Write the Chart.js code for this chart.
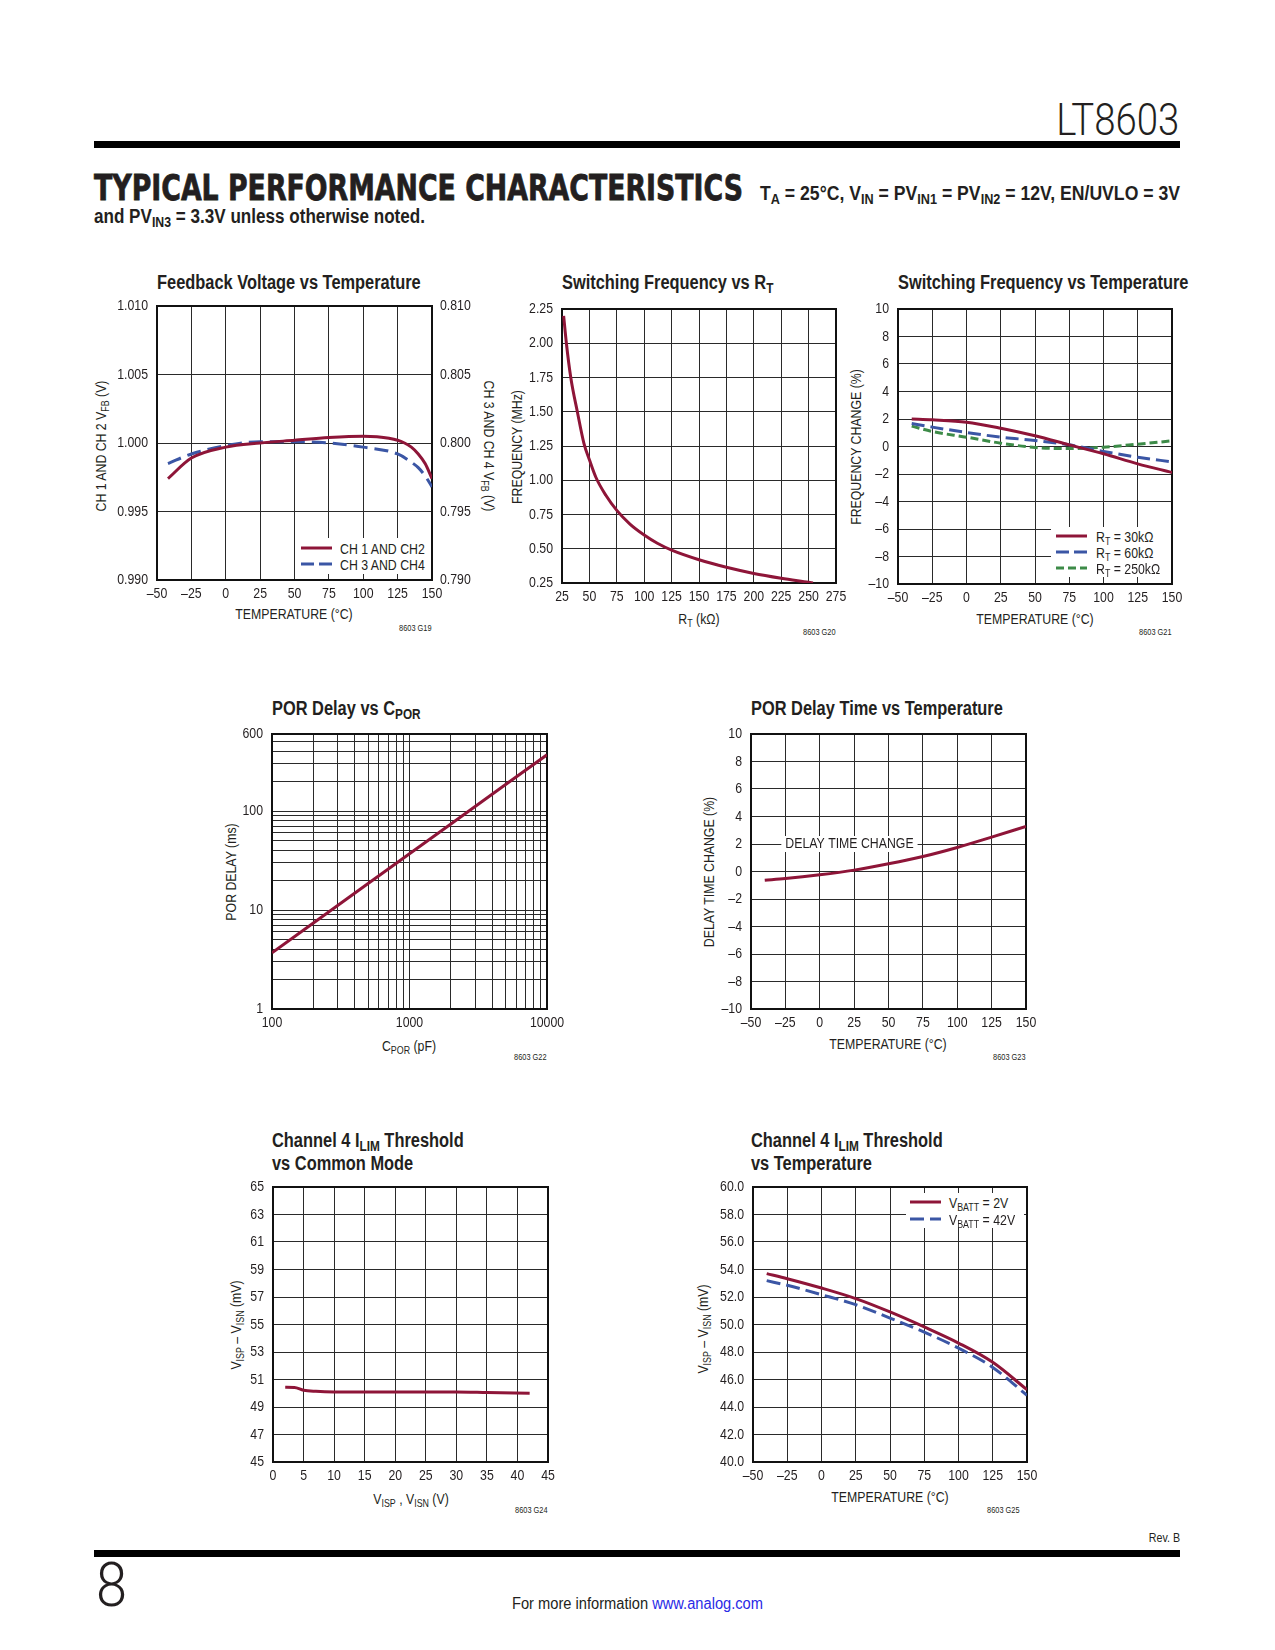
<!DOCTYPE html>
<html lang="en">
<head>
<meta charset="UTF-8" />
<title>LT8603 Typical Performance Characteristics</title>
<script src="https://cdn.jsdelivr.net/npm/chart.js@4.4.1/dist/chart.umd.min.js"></script>
<style>
	body { margin: 0; background: #fff; }
	#page {
		position: relative;
		width: 1275px;
		height: 1650px;
		overflow: hidden;
		color: #231f20;
		font-family: 'Liberation Sans', Arial, sans-serif;
	}
	#page canvas { position: absolute; }
	/* narrow look: Liberation Sans squeezed horizontally */
	.t { position: absolute; white-space: nowrap; line-height: 1; transform: translateY(-50%) scaleX(0.82); transform-origin: left center; }
	.r { transform-origin: right center; }
	.c { transform: translate(-50%, -50%) scaleX(0.82); transform-origin: center; }
	.rot { transform: translate(-50%, -50%) rotate(-90deg) scaleX(0.82); transform-origin: center; }
	.rotcw { transform: translate(-50%, -50%) rotate(90deg) scaleX(0.82); transform-origin: center; }
	.rule { position: absolute; left: 94px; width: 1086px; background: #000; }
	sub { font-size: 72%; vertical-align: baseline; position: relative; top: 0.3em; line-height: 0; }
	.ct { font-weight: bold; font-size: 20px; }
	.ax { font-size: 15px; }
	.id { font-size: 9px; }
	.lgbox { position: absolute; background: #fff; }
	.lg { position: absolute; }
	.lt { font-size: 15px; }
</style>
</head>
<body>
<div id="page">
	<!-- header -->
	<div class="t" id="partno" style="right:96px;top:120px;font-family:Roboto;font-weight:300;font-size:44px">LT8603</div>
	<div class="rule" style="top:141px;height:7px"></div>
	<div class="t" id="tpc" style="left:94px;top:188px;font-family:'DejaVu Sans';font-weight:bold;font-size:36px;-webkit-text-stroke:0.8px #231f20">TYPICAL PERFORMANCE CHARACTERISTICS</div>
	<div class="t" id="cond1" style="left:760px;top:193px;font-weight:bold;font-size:20px">T<sub>A</sub> = 25°C, V<sub>IN</sub> = PV<sub>IN1</sub> = PV<sub>IN2</sub> = 12V, EN/UVLO = 3V</div>
	<div class="t" id="cond2" style="left:94px;top:216px;font-weight:bold;font-size:20px">and PV<sub>IN3</sub> = 3.3V unless otherwise noted.</div>

	<!-- chart titles -->
	<div class="t ct" style="left:157px;top:282px">Feedback Voltage vs Temperature</div>
	<div class="t ct" style="left:562px;top:282px">Switching Frequency vs R<sub>T</sub></div>
	<div class="t ct" style="left:898px;top:282px">Switching Frequency vs Temperature</div>
	<div class="t ct" style="left:272px;top:708px">POR Delay vs C<sub>POR</sub></div>
	<div class="t ct" style="left:751px;top:708px">POR Delay Time vs Temperature</div>
	<div class="t ct" style="left:272px;top:1140px">Channel 4 I<sub>LIM</sub> Threshold</div>
	<div class="t ct" style="left:272px;top:1163px">vs Common Mode</div>
	<div class="t ct" style="left:751px;top:1140px">Channel 4 I<sub>LIM</sub> Threshold</div>
	<div class="t ct" style="left:751px;top:1163px">vs Temperature</div>

	<!-- axis titles -->
	<div class="t ax rot" style="left:100px;top:446px">CH 1 AND CH 2 V<sub>FB</sub> (V)</div>
	<div class="t ax rotcw" style="left:489px;top:446px">CH 3 AND CH 4 V<sub>FB</sub> (V)</div>
	<div class="t ax c" style="left:294px;top:613px">TEMPERATURE (°C)</div>
	<div class="t ax rot" style="left:516px;top:447px">FREQUENCY (MHz)</div>
	<div class="t ax c" style="left:699px;top:618px">R<sub>T</sub> (kΩ)</div>
	<div class="t ax rot" style="left:855px;top:447px">FREQUENCY CHANGE (%)</div>
	<div class="t ax c" style="left:1035px;top:618px">TEMPERATURE (°C)</div>
	<div class="t ax rot" style="left:230px;top:872px">POR DELAY (ms)</div>
	<div class="t ax c" style="left:409px;top:1045px">C<sub>POR</sub> (pF)</div>
	<div class="t ax rot" style="left:708px;top:872px">DELAY TIME CHANGE (%)</div>
	<div class="t ax c" style="left:888px;top:1043px">TEMPERATURE (°C)</div>
	<div class="t ax rot" style="left:235px;top:1325px">V<sub>ISP</sub> – V<sub>ISN</sub> (mV)</div>
	<div class="t ax c" style="left:411px;top:1498px">V<sub>ISP</sub> , V<sub>ISN</sub> (V)</div>
	<div class="t ax rot" style="left:702px;top:1329px">V<sub>ISP</sub> – V<sub>ISN</sub> (mV)</div>
	<div class="t ax c" style="left:890px;top:1496px">TEMPERATURE (°C)</div>

	<!-- figure ids -->
	<div class="t r id" style="right:843px;top:628px">8603 G19</div>
	<div class="t r id" style="right:439px;top:632px">8603 G20</div>
	<div class="t r id" style="right:103px;top:632px">8603 G21</div>
	<div class="t r id" style="right:728px;top:1057px">8603 G22</div>
	<div class="t r id" style="right:249px;top:1057px">8603 G23</div>
	<div class="t r id" style="right:727px;top:1510px">8603 G24</div>
	<div class="t r id" style="right:255px;top:1510px">8603 G25</div>

	<canvas id="c1"></canvas>
	<canvas id="c2"></canvas>
	<canvas id="c3"></canvas>
	<canvas id="c4"></canvas>
	<canvas id="c5"></canvas>
	<canvas id="c6"></canvas>
	<canvas id="c7"></canvas>

	<!-- legends -->
	<div class="lgbox" style="left:298px;top:538px;width:131px;height:36px"></div>
	<svg class="lg" style="left:301px;top:544.5px" width="31" height="6"><line x1="0" y1="3" x2="31" y2="3" stroke="#8e1538" stroke-width="3" /></svg>
	<div class="t lt" style="left:340px;top:548px">CH 1 AND CH2</div>
	<svg class="lg" style="left:301px;top:561px" width="31" height="6"><line x1="0" y1="3" x2="31" y2="3" stroke="#3b56a5" stroke-width="3" stroke-dasharray="13 5" /></svg>
	<div class="t lt" style="left:340px;top:564px">CH 3 AND CH4</div>

	<div class="lgbox" style="left:1051px;top:527px;width:120px;height:50px"></div>
	<svg class="lg" style="left:1056px;top:532.7px" width="31" height="6"><line x1="0" y1="3" x2="31" y2="3" stroke="#8e1538" stroke-width="3" /></svg>
	<div class="t lt" style="left:1096px;top:536px">R<sub>T</sub> = 30kΩ</div>
	<svg class="lg" style="left:1056px;top:548.7px" width="31" height="6"><line x1="0" y1="3" x2="31" y2="3" stroke="#3b56a5" stroke-width="3" stroke-dasharray="13 5" /></svg>
	<div class="t lt" style="left:1096px;top:552px">R<sub>T</sub> = 60kΩ</div>
	<svg class="lg" style="left:1056px;top:565.3px" width="31" height="6"><line x1="0" y1="3" x2="31" y2="3" stroke="#3d8b48" stroke-width="3" stroke-dasharray="8 4" /></svg>
	<div class="t lt" style="left:1096px;top:568px">R<sub>T</sub> = 250kΩ</div>

	<div class="lgbox" style="left:906px;top:1193px;width:118px;height:35px"></div>
	<svg class="lg" style="left:910px;top:1199.3px" width="31" height="6"><line x1="0" y1="3" x2="31" y2="3" stroke="#8e1538" stroke-width="3" /></svg>
	<div class="t lt" style="left:949px;top:1202px">V<sub>BATT</sub> = 2V</div>
	<svg class="lg" style="left:910px;top:1216px" width="31" height="6"><line x1="0" y1="3" x2="31" y2="3" stroke="#3b56a5" stroke-width="3" stroke-dasharray="14 6" /></svg>
	<div class="t lt" style="left:949px;top:1219px">V<sub>BATT</sub> = 42V</div>

	<!-- footer -->
	<div class="t r" style="right:95px;top:1537px;font-size:13px">Rev. B</div>
	<div class="rule" style="top:1550px;height:7px"></div>
	<div class="t" id="pageno" style="left:96px;top:1585px;font-family:Roboto;font-weight:300;font-size:62px">8</div>
	<div class="t" id="moreinfo" style="left:512px;top:1604px;font-size:16px">For more information <span style="color:#2a2ae6">www.analog.com</span></div>
</div>

<script>
	// ---- data: Feedback Voltage vs Temperature
	const fbTempA = [-42, -25, 0, 25, 50, 75, 100, 110, 125, 130, 135, 140, 145, 150]
	const fbCh12 = [0.9974, 0.9989, 0.9997, 1.0, 1.0002, 1.0004, 1.0005, 1.00045, 1.0002, 1.0, 0.9997, 0.9992, 0.9985, 0.9974]
	const fbTempB = [-42, -25, 0, 25, 50, 75, 100, 125, 135, 140, 145, 150]
	const fbCh34 = [0.7985, 0.7992, 0.7998, 0.8001, 0.8001, 0.8, 0.7997, 0.7992, 0.7986, 0.7982, 0.7976, 0.7968]
	const fbLeftTicks = [0.99, 0.995, 1.0, 1.005, 1.01]
	const fbLeftLabels = ['0.990', '0.995', '1.000', '1.005', '1.010']
	const fbRightTicks = [0.79, 0.795, 0.8, 0.805, 0.81]
	const fbRightLabels = ['0.790', '0.795', '0.800', '0.805', '0.810']

	// ---- shared temperature axis
	const tempTicks = [-50, -25, 0, 25, 50, 75, 100, 125, 150]
	const tempLabels = ['–50', '–25', '0', '25', '50', '75', '100', '125', '150']

	// ---- data: Switching Frequency vs RT
	const rtKohm = [26.5, 29, 33, 39, 45, 50, 56, 65, 75, 87, 100, 112, 125, 150, 175, 200, 225, 250, 254]
	const rtFreq = [2.2, 2.0, 1.75, 1.5, 1.27, 1.15, 1.02, 0.89, 0.78, 0.68, 0.6, 0.54, 0.49, 0.42, 0.365, 0.32, 0.285, 0.255, 0.25]
	const rtTicks = [25, 50, 75, 100, 125, 150, 175, 200, 225, 250, 275]
	const rtLabels = ['25', '50', '75', '100', '125', '150', '175', '200', '225', '250', '275']
	const freqTicks = [0.25, 0.5, 0.75, 1.0, 1.25, 1.5, 1.75, 2.0, 2.25]
	const freqLabels = ['0.25', '0.50', '0.75', '1.00', '1.25', '1.50', '1.75', '2.00', '2.25']

	// ---- data: Switching Frequency vs Temperature
	const sfTemp = [-40, -25, 0, 25, 50, 75, 100, 125, 150]
	const sf30k = [2.0, 1.94, 1.77, 1.33, 0.78, 0.12, -0.53, -1.26, -1.89]
	const sf60k = [1.67, 1.41, 1.02, 0.68, 0.44, 0.12, -0.36, -0.78, -1.12]
	const sf250k = [1.48, 1.09, 0.68, 0.24, -0.07, -0.15, -0.05, 0.17, 0.41]
	const pctTicks = [-10, -8, -6, -4, -2, 0, 2, 4, 6, 8, 10]
	const pctLabels = ['–10', '–8', '–6', '–4', '–2', '0', '2', '4', '6', '8', '10']

	// ---- data: POR Delay vs CPOR (log-log)
	const cpor = [100, 200, 500, 1000, 2000, 5000, 10000]
	const porDelay = [3.7, 7.4, 18.5, 37, 74, 185, 370]
	const cporLabelTicks = [100, 1000, 10000]
	const cporLabels = ['100', '1000', '10000']
	const delayLabelTicks = [1, 10, 100, 600]
	const delayLabels = ['1', '10', '100', '600']

	// ---- data: POR Delay Time vs Temperature
	const dtTemp = [-40, -25, 0, 25, 50, 75, 100, 125, 150]
	const dtChange = [-0.63, -0.51, -0.24, 0.1, 0.56, 1.09, 1.75, 2.5, 3.28]
	const dtNote = 'DELAY TIME CHANGE'
	const dtNoteAt = [21.6, 2]

	// ---- data: Channel 4 ILIM Threshold vs Common Mode
	const cmVolts = [2, 3.5, 5, 7, 10, 20, 30, 35, 42]
	const cmThresh = [50.43, 50.42, 50.22, 50.14, 50.1, 50.1, 50.1, 50.06, 50.0]
	const cmTicks = [0, 5, 10, 15, 20, 25, 30, 35, 40, 45]
	const cmLabels = ['0', '5', '10', '15', '20', '25', '30', '35', '40', '45']
	const mvTicks = [45, 47, 49, 51, 53, 55, 57, 59, 61, 63, 65]
	const mvLabels = ['45', '47', '49', '51', '53', '55', '57', '59', '61', '63', '65']

	// ---- data: Channel 4 ILIM Threshold vs Temperature
	const itTemp = [-40, -25, 0, 25, 50, 75, 100, 125, 150]
	const it2V = [53.7, 53.33, 52.65, 51.88, 50.91, 49.82, 48.65, 47.25, 45.26]
	const it42V = [53.19, 52.85, 52.17, 51.44, 50.47, 49.45, 48.28, 46.88, 44.85]
	const itTicks = [40, 42, 44, 46, 48, 50, 52, 54, 56, 58, 60]
	const itLabels = ['40.0', '42.0', '44.0', '46.0', '48.0', '50.0', '52.0', '54.0', '56.0', '58.0', '60.0']

	// ---- styling
	const FONT = "'Liberation Sans', Arial, sans-serif"
	const NARROW = 0.82
	const INK = '#231f20'
	const GRID = '#2a2a2a'
	const RED = '#8e1538'
	const BLUE = '#3b56a5'
	const GREEN = '#3d8b48'

	Chart.defaults.font.family = FONT
	Chart.defaults.font.size = 15
	Chart.defaults.color = INK

	// canvas margins around each plot box
	const ML = 70, MR = 70, MT = 15, MB = 40

	function pts(xs, ys) {
		return xs.map((x, i) => ({ x: x, y: ys[i] }))
	}

	function series(xs, ys, color, dash) {
		return {
			data: pts(xs, ys),
			borderColor: color,
			borderWidth: 3,
			borderDash: dash || [],
			pointRadius: 0,
			fill: false,
			cubicInterpolationMode: 'monotone',
		}
	}

	function axis(type, tickVals, labelVals, labels, pad, extra) {
		return Object.assign({
			type: type,
			min: tickVals[0],
			max: tickVals[tickVals.length - 1],
			afterBuildTicks: s => { s.ticks = tickVals.map(v => ({ value: v })) },
			ticks: {
				display: false, // drawn condensed by tickLabelPlugin
				autoSkip: false,
				padding: pad,
				callback: v => {
					const i = labelVals.findIndex(l => Math.abs(l - v) < 1e-9)
					return i >= 0 ? labels[i] : ''
				},
			},
			grid: { color: GRID, lineWidth: 1, drawTicks: false },
			border: { display: false },
		}, extra || {})
	}

	// log grid: 1..9 x each decade
	function logGrid(lo, hi) {
		const out = []
		for (let d = lo; d < hi; d *= 10) {
			for (let k = 1; k < 10; k++) {
				if (k * d <= hi) out.push(k * d)
			}
		}
		if (out[out.length - 1] !== hi) out.push(hi)
		return out
	}

	// frame around plot area
	const boxPlugin = {
		id: 'plotBox',
		beforeDatasetsDraw(chart) {
			const { ctx, chartArea: a } = chart
			ctx.save()
			ctx.strokeStyle = '#111'
			ctx.lineWidth = 2
			ctx.strokeRect(a.left, a.top, a.right - a.left, a.bottom - a.top)
			ctx.restore()
		},
	}

	// tick labels in a squeezed (condensed) face
	const tickLabelPlugin = {
		id: 'tickLabels',
		afterDraw(chart) {
			const ctx = chart.ctx
			ctx.save()
			ctx.font = '15px ' + FONT
			ctx.fillStyle = INK
			ctx.textBaseline = 'middle'
			Object.values(chart.scales).forEach(s => {
				const pad = s.options.ticks.padding
				s.ticks.forEach(t => {
					const label = t.label
					if (!label) return
					const p = s.getPixelForValue(t.value)
					let x, y
					if (s.isHorizontal()) {
						x = p; y = s.top + pad; ctx.textAlign = 'center'
					} else if (s.position === 'right') {
						x = s.left + pad; y = p; ctx.textAlign = 'left'
					} else {
						x = s.right - pad; y = p; ctx.textAlign = 'right'
					}
					ctx.save()
					ctx.translate(x, y)
					ctx.scale(NARROW, 1)
					ctx.fillText(label, 0, 0)
					ctx.restore()
				})
			})
			ctx.restore()
		},
	}

	// text label sitting on a gridline
	const notePlugin = {
		id: 'note',
		beforeDatasetsDraw(chart) {
			const { ctx, scales } = chart
			const px = scales.x.getPixelForValue(dtNoteAt[0])
			const py = scales.y.getPixelForValue(dtNoteAt[1])
			ctx.save()
			ctx.font = '15px ' + FONT
			const w = ctx.measureText(dtNote).width * NARROW
			ctx.fillStyle = '#fff'
			ctx.fillRect(px - w / 2 - 4, py - 8, w + 8, 16)
			ctx.fillStyle = INK
			ctx.textAlign = 'center'
			ctx.textBaseline = 'middle'
			ctx.translate(px, py)
			ctx.scale(NARROW, 1)
			ctx.fillText(dtNote, 0, 0)
			ctx.restore()
		},
	}

	function makeChart(id, box, datasets, scales, extra) {
		const cv = document.getElementById(id)
		const w = box.r - box.l + ML + MR
		const h = box.b - box.t + MT + MB
		cv.width = w
		cv.height = h
		cv.style.left = (box.l - ML) + 'px'
		cv.style.top = (box.t - MT) + 'px'
		scales.x.afterFit = s => { s.height = MB }
		scales.y.afterFit = s => { s.width = ML }
		if (scales.y2) scales.y2.afterFit = s => { s.width = MR }
		return new Chart(cv, {
			type: 'line',
			data: { datasets: datasets },
			options: {
				responsive: false,
				animation: false,
				layout: { padding: { left: 0, top: MT, right: scales.y2 ? 0 : MR, bottom: 0 } },
				plugins: { legend: { display: false }, tooltip: { enabled: false } },
				scales: scales,
			},
			plugins: [boxPlugin, tickLabelPlugin].concat(extra || []),
		})
	}

	function fitWidth(id, target, origin) {
		const el = document.getElementById(id)
		el.style.transform = 'translateY(-50%)'
		const nat = el.getBoundingClientRect().width
		el.style.transformOrigin = origin
		el.style.transform = 'translateY(-50%) scaleX(' + (target / nat) + ')'
	}

	// Feedback Voltage vs Temperature
	makeChart('c1', { l: 157, t: 306, r: 432, b: 580 },
		[
			Object.assign(series(fbTempA, fbCh12, RED), { yAxisID: 'y' }),
			Object.assign(series(fbTempB, fbCh34, BLUE, [14, 7]), { yAxisID: 'y2' }),
		],
		{
			x: axis('linear', tempTicks, tempTicks, tempLabels, 14),
			y: axis('linear', fbLeftTicks, fbLeftTicks, fbLeftLabels, 9, { position: 'left' }),
			y2: axis('linear', fbRightTicks, fbRightTicks, fbRightLabels, 8, { position: 'right', grid: { display: false } }),
		})

	// Switching Frequency vs RT
	makeChart('c2', { l: 562, t: 309, r: 836, b: 583 },
		[series(rtKohm, rtFreq, RED)],
		{
			x: axis('linear', rtTicks, rtTicks, rtLabels, 14),
			y: axis('linear', freqTicks, freqTicks, freqLabels, 9),
		})

	// Switching Frequency vs Temperature
	makeChart('c3', { l: 898, t: 309, r: 1172, b: 584 },
		[
			series(sfTemp, sf30k, RED),
			series(sfTemp, sf60k, BLUE, [13, 6]),
			series(sfTemp, sf250k, GREEN, [8, 4]),
		],
		{
			x: axis('linear', tempTicks, tempTicks, tempLabels, 14),
			y: axis('linear', pctTicks, pctTicks, pctLabels, 9),
		})

	// POR Delay vs CPOR
	makeChart('c4', { l: 272, t: 734, r: 547, b: 1009 },
		[Object.assign(series(cpor, porDelay, RED), { cubicInterpolationMode: 'default', tension: 0 })],
		{
			x: axis('logarithmic', logGrid(100, 10000), cporLabelTicks, cporLabels, 14),
			y: axis('logarithmic', logGrid(1, 600), delayLabelTicks, delayLabels, 9),
		})

	// POR Delay Time vs Temperature
	makeChart('c5', { l: 751, t: 734, r: 1026, b: 1009 },
		[series(dtTemp, dtChange, RED)],
		{
			x: axis('linear', tempTicks, tempTicks, tempLabels, 14),
			y: axis('linear', pctTicks, pctTicks, pctLabels, 9),
		}, [notePlugin])

	// Channel 4 ILIM Threshold vs Common Mode
	makeChart('c6', { l: 273, t: 1187, r: 548, b: 1462 },
		[series(cmVolts, cmThresh, RED)],
		{
			x: axis('linear', cmTicks, cmTicks, cmLabels, 14),
			y: axis('linear', mvTicks, mvTicks, mvLabels, 9),
		})

	// Channel 4 ILIM Threshold vs Temperature
	makeChart('c7', { l: 753, t: 1187, r: 1027, b: 1462 },
		[
			series(itTemp, it2V, RED),
			series(itTemp, it42V, BLUE, [14, 6]),
		],
		{
			x: axis('linear', tempTicks, tempTicks, tempLabels, 14),
			y: axis('linear', itTicks, itTicks, itLabels, 9),
		})

	// header / footer text widths
	fitWidth('partno', 123, 'right center')
	fitWidth('tpc', 649, 'left center')
	fitWidth('cond1', 420, 'left center')
	fitWidth('cond2', 331, 'left center')
	fitWidth('pageno', 31, 'left center')
	fitWidth('moreinfo', 251, 'left center')
</script>
</body>
</html>
